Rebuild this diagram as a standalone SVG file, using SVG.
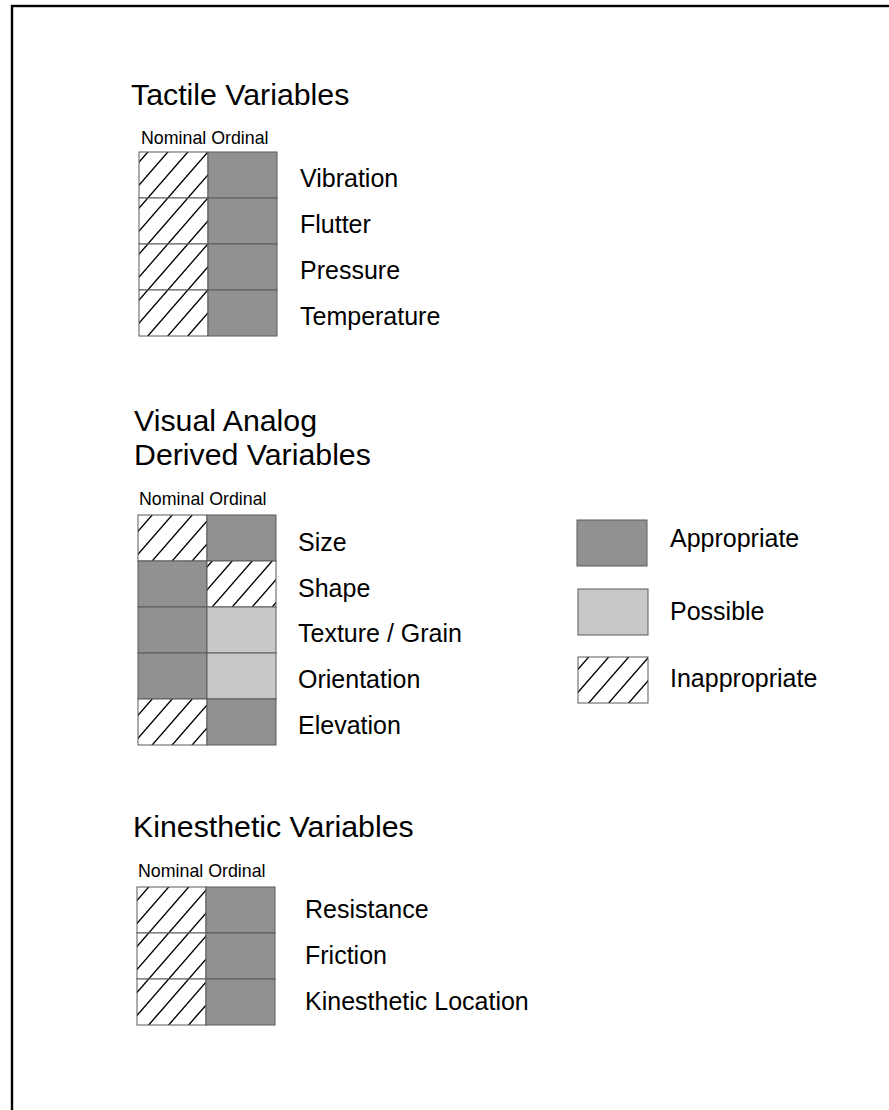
<svg xmlns="http://www.w3.org/2000/svg" width="889" height="1110" viewBox="0 0 889 1110">
  <style>
    .title { font-family: "Liberation Sans", Arial, sans-serif; font-size: 30.3px; fill: #000; }
    .label { font-family: "Liberation Sans", Arial, sans-serif; font-size: 25px; fill: #000; }
    .head { font-family: "Liberation Sans", Arial, sans-serif; font-size: 17.8px; fill: #000; }
    .app { fill: #919191; stroke: #5a5a5a; stroke-width: 1; }
    .pos { fill: #c8c8c8; stroke: #5a5a5a; stroke-width: 1; }
    .inap { fill: url(#hatch); stroke: #5a5a5a; stroke-width: 1; }
  </style>
  <defs>
    <pattern id="hatch" patternUnits="userSpaceOnUse" width="20" height="23">
      <rect x="0" y="0" width="20" height="23" fill="#fff"/>
      <path d="M-2,2.3 L22,-25.3 M-2,25.3 L22,-2.3 M-2,48.3 L22,20.7" stroke="#000" stroke-width="1.4" fill="none"/>
    </pattern>
  </defs>
  <rect width="889" height="1110" fill="#fff"/>
  <rect x="12" y="6" width="1000" height="1200" fill="none" stroke="#000" stroke-width="2.4"/>

  <!-- Tactile -->
  <g id="tactile-title">
    <text class="title" x="131" y="104.5">Tactile Variables</text>
    <text class="head" x="141" y="144">Nominal Ordinal</text>
  </g>
  <g id="tactile-vibration">
    <rect class="inap" x="139" y="152" width="69" height="46"/>
    <rect class="app" x="208" y="152" width="69" height="46"/>
    <text class="label" x="300" y="187">Vibration</text>
  </g>
  <g id="tactile-flutter">
    <rect class="inap" x="139" y="198" width="69" height="46"/>
    <rect class="app" x="208" y="198" width="69" height="46"/>
    <text class="label" x="300" y="233">Flutter</text>
  </g>
  <g id="tactile-pressure">
    <rect class="inap" x="139" y="244" width="69" height="46"/>
    <rect class="app" x="208" y="244" width="69" height="46"/>
    <text class="label" x="300" y="279">Pressure</text>
  </g>
  <g id="tactile-temperature">
    <rect class="inap" x="139" y="290" width="69" height="46"/>
    <rect class="app" x="208" y="290" width="69" height="46"/>
    <text class="label" x="300" y="325">Temperature</text>
  </g>

  <!-- Visual Analog Derived -->
  <g id="derived-title">
    <text class="title" x="134" y="431">Visual Analog</text>
    <text class="title" x="134" y="465">Derived Variables</text>
    <text class="head" x="139" y="505">Nominal Ordinal</text>
  </g>
  <g id="derived-size">
    <rect class="inap" x="138" y="515" width="69" height="46"/>
    <rect class="app" x="207" y="515" width="69" height="46"/>
    <text class="label" x="298" y="551">Size</text>
  </g>
  <g id="derived-shape">
    <rect class="app" x="138" y="561" width="69" height="46"/>
    <rect class="inap" x="207" y="561" width="69" height="46"/>
    <text class="label" x="298" y="597">Shape</text>
  </g>
  <g id="derived-texture">
    <rect class="app" x="138" y="607" width="69" height="46"/>
    <rect class="pos" x="207" y="607" width="69" height="46"/>
    <text class="label" x="298" y="642">Texture / Grain</text>
  </g>
  <g id="derived-orientation">
    <rect class="app" x="138" y="653" width="69" height="46"/>
    <rect class="pos" x="207" y="653" width="69" height="46"/>
    <text class="label" x="298" y="688">Orientation</text>
  </g>
  <g id="derived-elevation">
    <rect class="inap" x="138" y="699" width="69" height="46"/>
    <rect class="app" x="207" y="699" width="69" height="46"/>
    <text class="label" x="298" y="734">Elevation</text>
  </g>

  <!-- Legend -->
  <g id="legend-appropriate">
    <rect class="app" x="577" y="520" width="70" height="46"/>
    <text class="label" x="670" y="547">Appropriate</text>
  </g>
  <g id="legend-possible">
    <rect class="pos" x="578" y="589" width="70" height="46"/>
    <text class="label" x="670" y="620">Possible</text>
  </g>
  <g id="legend-inappropriate">
    <rect class="inap" x="578" y="657" width="70" height="46"/>
    <text class="label" x="670" y="687">Inappropriate</text>
  </g>

  <!-- Kinesthetic -->
  <g id="kinesthetic-title">
    <text class="title" x="133" y="837">Kinesthetic Variables</text>
    <text class="head" x="138" y="877">Nominal Ordinal</text>
  </g>
  <g id="kinesthetic-resistance">
    <rect class="inap" x="137" y="887" width="69" height="46"/>
    <rect class="app" x="206" y="887" width="69" height="46"/>
    <text class="label" x="305" y="918">Resistance</text>
  </g>
  <g id="kinesthetic-friction">
    <rect class="inap" x="137" y="933" width="69" height="46"/>
    <rect class="app" x="206" y="933" width="69" height="46"/>
    <text class="label" x="305" y="964">Friction</text>
  </g>
  <g id="kinesthetic-location">
    <rect class="inap" x="137" y="979" width="69" height="46"/>
    <rect class="app" x="206" y="979" width="69" height="46"/>
    <text class="label" x="305" y="1010">Kinesthetic Location</text>
  </g>
</svg>
